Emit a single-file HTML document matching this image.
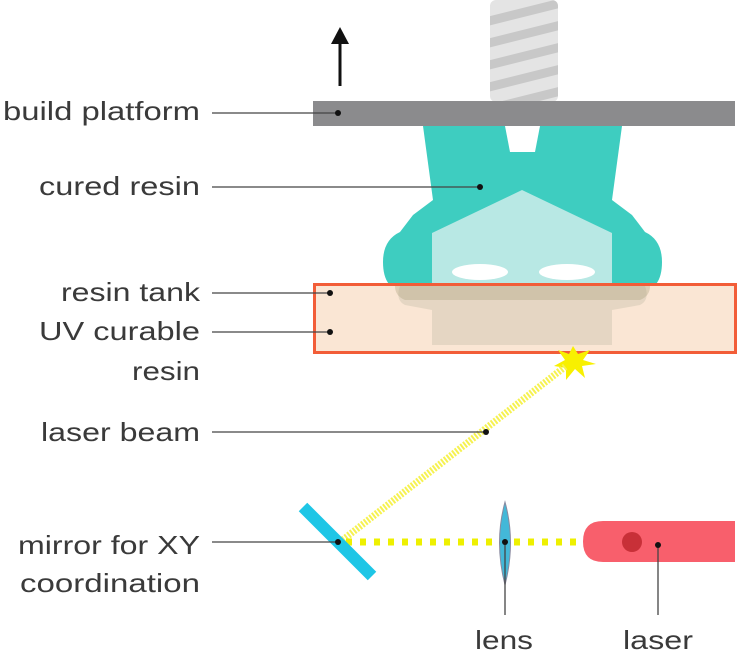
<!DOCTYPE html>
<html><head><meta charset="utf-8"><style>
html,body{margin:0;padding:0;background:#fff;}
svg{display:block;}
text{font-family:"Liberation Sans",sans-serif;font-size:26px;fill:#3a3a3a;}
</style></head><body>
<svg width="740" height="662" viewBox="0 0 740 662" xmlns="http://www.w3.org/2000/svg">
<defs>
<clipPath id="sc"><rect x="490" y="0" width="68" height="102" rx="6"/></clipPath>
</defs>
<rect x="490" y="0" width="68" height="102" rx="6" fill="#e4e4e4"/>
<g clip-path="url(#sc)" stroke="#c8c8c8" stroke-width="9">
<line x1="485" y1="22" x2="565" y2="2"/>
<line x1="485" y1="44" x2="565" y2="24"/>
<line x1="485" y1="66" x2="565" y2="46"/>
<line x1="485" y1="88" x2="565" y2="68"/>
<line x1="485" y1="110" x2="565" y2="90"/>
</g>
<line x1="340" y1="86" x2="340" y2="40" stroke="#111" stroke-width="3"/>
<polygon points="331,44 349,44 340,27" fill="#111"/>
<path d="M423,126 L622,126 L612,200 L632,215 L645,232 Q662,240 662,262 Q662,290 640,292 L405,292 Q383,290 383,262 Q383,240 400,232 L413,215 L433,200 Z" fill="#3ecdc0"/>
<polygon points="505,126 540,126 535,152 510,152" fill="#fff"/>
<polygon points="522,190 612,233 612,292 432,292 432,233" fill="#b8e8e4"/>
<ellipse cx="480" cy="272" rx="28" ry="8" fill="#fff"/>
<ellipse cx="567" cy="272" rx="28" ry="8" fill="#fff"/>
<rect x="313" y="101" width="422" height="25" fill="#8b8b8d"/>
<rect x="314.5" y="284.5" width="421" height="68" fill="#fae6d4" stroke="#f25d38" stroke-width="3"/>
<path d="M400,286 L645,286 Q650,300 640,305 L612,310 L612,345 L432,345 L432,310 L405,305 Q395,300 400,286 Z" fill="#b5b39a" opacity="0.3"/>
<path d="M395,286 L650,286 Q650,296 640,300 L405,300 Q395,296 395,286Z" fill="#a8a07a" opacity="0.35"/>
<polygon points="573,346 578,354 590,350 583,360 596,364 582,366 585,378 575,369 566,380 566,368 554,366 565,360 558,350 569,354" fill="#f8f000"/>
<line x1="340" y1="542" x2="566" y2="366" stroke="#f6f250" stroke-width="7" stroke-dasharray="2 1.5"/>
<line x1="346" y1="542" x2="585" y2="542" stroke="#eef000" stroke-width="7" stroke-dasharray="6 8"/>
<line x1="303" y1="507" x2="372" y2="576" stroke="#1ec6e6" stroke-width="12"/>
<path d="M505,502 Q516,542 505,585 Q494,542 505,502Z" fill="#43b8d8" stroke="#8a8aa0" stroke-width="1"/>
<path d="M603,521 L735,521 L735,562 L603,562 Q583,562 583,541.5 Q583,521 603,521Z" fill="#f85f6c"/>
<circle cx="632" cy="542" r="10" fill="#c83038"/>
<g stroke="#444" stroke-width="1.3">
<line x1="212" y1="113" x2="338" y2="113"/>
<line x1="212" y1="187" x2="480" y2="187"/>
<line x1="212" y1="293" x2="330" y2="293"/>
<line x1="212" y1="332" x2="330" y2="332"/>
<line x1="212" y1="432" x2="486" y2="432"/>
<line x1="212" y1="542" x2="338" y2="542"/>
<line x1="505" y1="542" x2="505" y2="615"/>
<line x1="658" y1="545" x2="658" y2="615"/>
</g>
<g fill="#111">
<circle cx="338" cy="113" r="3"/><circle cx="480" cy="187" r="3"/>
<circle cx="330" cy="293" r="3"/><circle cx="330" cy="332" r="3"/>
<circle cx="486" cy="432" r="3"/><circle cx="338" cy="542" r="3"/>
<circle cx="505" cy="542" r="3"/><circle cx="658" cy="545" r="3"/>
</g>
<text x="3" y="120" textLength="197" lengthAdjust="spacingAndGlyphs">build platform</text>
<text x="39" y="195" textLength="161" lengthAdjust="spacingAndGlyphs">cured resin</text>
<text x="61" y="301" textLength="139" lengthAdjust="spacingAndGlyphs">resin tank</text>
<text x="39" y="340" textLength="161" lengthAdjust="spacingAndGlyphs">UV curable</text>
<text x="132" y="380" textLength="68" lengthAdjust="spacingAndGlyphs">resin</text>
<text x="41" y="441" textLength="159" lengthAdjust="spacingAndGlyphs">laser beam</text>
<text x="18" y="554" textLength="182" lengthAdjust="spacingAndGlyphs">mirror for XY</text>
<text x="20" y="592" textLength="180" lengthAdjust="spacingAndGlyphs">coordination</text>
<text x="475" y="649" textLength="58" lengthAdjust="spacingAndGlyphs">lens</text>
<text x="623" y="649" textLength="70" lengthAdjust="spacingAndGlyphs">laser</text>
</svg>
</body></html>
